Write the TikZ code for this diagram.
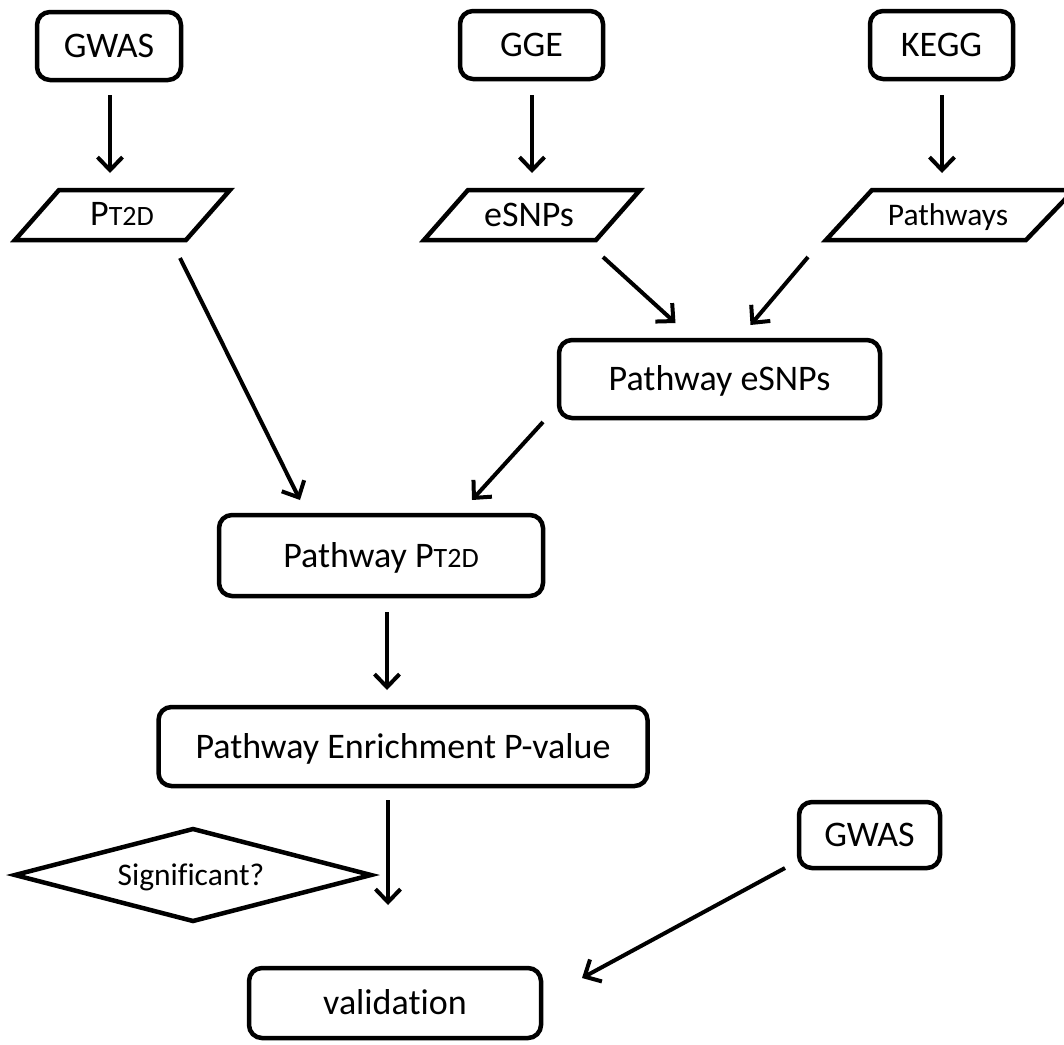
\documentclass[tikz,border=0pt]{standalone}
\usepackage{fontspec}
\setmainfont{Carlito}[Ligatures={NoCommon}]
\usetikzlibrary{arrows.meta,calc}
\newcommand\PTtwoD{P{\fontsize{28}{32}\selectfont T2D}}
\begin{document}
\begin{tikzpicture}[x=1pt,y=-1pt,
  box/.style={draw, line width=4.5pt, rounded corners=13pt, inner sep=0pt, outer sep=0pt,
    text height=23pt, text depth=0pt, font=\fontsize{36}{42}\selectfont},
  shapeline/.style={line width=4.5pt, line join=miter},
  lbl/.style={inner sep=0pt, outer sep=0pt, text height=23pt, text depth=0pt, font=\fontsize{36}{42}\selectfont},
  small/.style={inner sep=0pt, outer sep=0pt, text height=20pt, text depth=0pt, font=\fontsize{31.5}{37}\selectfont},
  arr/.style={line width=4pt, -{Straight Barb[length=13pt,width=25pt]}}]
\clip (0,0) rectangle (1064,1044);
\fill[white] (0,0) rectangle (1064,1044);

% boxes
\node[box, minimum width=144pt, minimum height=68pt] (gwas1) at (109,46) {GWAS};
\node[box, minimum width=143pt, minimum height=68pt] (gge) at (531.5,45) {GGE};
\node[box, minimum width=143pt, minimum height=68pt] (kegg) at (941.5,45) {KEGG};
\node[box, minimum width=321pt, minimum height=78pt] (pesnps) at (719.5,379) {Pathway eSNPs};
\node[box, minimum width=324pt, minimum height=81pt] (ppt2d) at (381,555.5) {Pathway \PTtwoD};
\node[box, minimum width=489pt, minimum height=79pt] (enrich) at (403,746.5) {Pathway Enrichment P-value};
\node[box, minimum width=141pt, minimum height=66pt] (gwas2) at (869.5,835) {GWAS};
\node[box, minimum width=292pt, minimum height=70pt] (valid) at (395,1003) {validation};

% parallelograms
\node[lbl] (pt2d) at (122,214) {\PTtwoD};
\draw[shapeline] (59,190) -- (230,190) -- (186,240) -- (15,240) -- cycle;
\node[lbl] (esnps) at (529,215) {eSNPs};
\draw[shapeline] (468,190) -- (640,190) -- (596,240) -- (424,240) -- cycle;
\node[small] (pathways) at (948,215) {Pathways};
\draw[shapeline] (872,190) -- (1074,190) -- (1026,240) -- (826,240) -- cycle;

% diamond
\node[small] (sig) at (191,875) {Significant?};
\draw[shapeline] (15,875) -- (193,829) -- (371,875) -- (193,921) -- cycle;

% connectors
\draw[arr] ($(gwas1.south)+(1,15)$) -- ($(pt2d)+(-12,-41)$);
\draw[arr] ($(gge.south)+(0.5,16)$) -- ($(esnps)+(3,-42)$);
\draw[arr] ($(kegg.south)+(0.5,16)$) -- ($(pathways)+(-6,-42)$);
\draw[arr] ($(pt2d)+(58,44)$) -- ($(ppt2d.north)+(-81,-15)$);
\draw[arr] ($(esnps)+(74,42)$) -- ($(pesnps.north)+(-44,-17)$);
\draw[arr] ($(pathways)+(-140,42)$) -- ($(pesnps.north)+(31,-15)$);
\draw[arr] ($(pesnps.south west)+(-16,4)$) -- ($(ppt2d.north)+(91,-15)$);
\draw[arr] ($(ppt2d.south)+(6,16)$) -- ($(enrich.north)+(-16,-17)$);
\draw[arr] ($(enrich.south)+(-15,14)$) -- ($(valid.north)+(-7,-63)$);
\draw[arr] ($(gwas2.south west)+(-14,0)$) -- ($(valid.east)+(41,-25)$);
\end{tikzpicture}
\end{document}
